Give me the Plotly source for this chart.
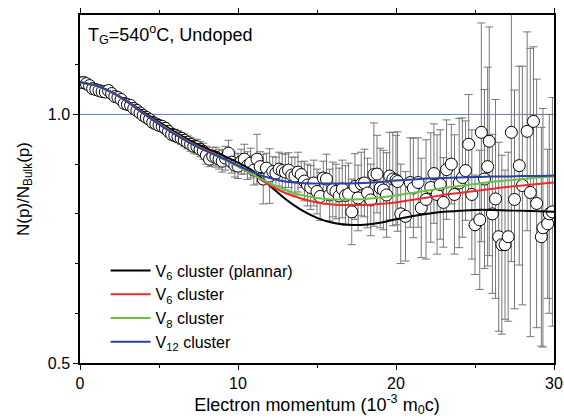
import plotly.graph_objects as go

# ---------------- data ----------------
momentum = [
    0.2, 0.4, 0.6, 0.8, 1.0, 1.2, 1.4, 1.6, 1.8, 2.0,
    2.2, 2.4, 2.6, 2.8, 3.0, 3.2, 3.4, 3.6, 3.8, 4.0,
    4.2, 4.4, 4.6, 4.8, 5.0, 5.2, 5.4, 5.6, 5.8, 6.0,
    6.2, 6.4, 6.6, 6.8, 7.0, 7.2, 7.4, 7.6, 7.8, 8.0,
    8.2, 8.4, 8.6, 8.8, 9.0, 9.2, 9.4, 9.6, 9.8, 10.0,
    10.2, 10.4, 10.6, 10.8, 11.0, 11.2, 11.4, 11.6, 11.8, 12.0,
    12.2, 12.4, 12.6, 12.8, 13.0, 13.2, 13.4, 13.6, 13.8, 14.0,
    14.2, 14.4, 14.6, 14.8, 15.0, 15.2, 15.4, 15.6, 15.8, 16.0,
    16.2, 16.4, 16.6, 16.8, 17.0, 17.2, 17.4, 17.6, 17.8, 18.0,
    18.2, 18.4, 18.6, 18.8, 19.0, 19.2, 19.4, 19.6, 19.8, 20.0,
    20.1, 20.3, 20.6, 20.9, 21.1, 21.4, 21.6, 21.9, 22.2, 22.4,
    22.6, 22.8, 23.0, 23.2, 23.5, 23.7, 24.0, 24.2, 24.4, 24.6,
    24.8, 25.0, 25.3, 25.4, 25.6, 25.8, 25.9, 26.1, 26.3, 26.5,
    26.7, 26.9, 27.1, 27.3, 27.5, 27.8, 28.0, 28.3, 28.5, 28.7,
    28.9, 29.2, 29.3, 29.6, 29.7, 29.9,
]
ratio = [
    1.064, 1.062, 1.058, 1.052, 1.050, 1.048, 1.046, 1.045, 1.048, 1.042,
    1.036, 1.034, 1.030, 1.022, 1.020, 1.018, 1.012, 1.008, 1.003, 0.998,
    0.994, 0.990, 0.984, 0.981, 0.978, 0.976, 0.972, 0.966, 0.960, 0.958,
    0.955, 0.952, 0.948, 0.944, 0.940, 0.936, 0.935, 0.930, 0.926, 0.918,
    0.910, 0.916, 0.914, 0.910, 0.906, 0.912, 0.922, 0.904, 0.898, 0.896,
    0.905, 0.910, 0.897, 0.902, 0.888, 0.910, 0.895, 0.870, 0.892, 0.876,
    0.885, 0.882, 0.890, 0.887, 0.884, 0.888, 0.878, 0.876, 0.884, 0.879,
    0.866, 0.858, 0.853, 0.862, 0.845, 0.835, 0.872, 0.870, 0.838, 0.849,
    0.845, 0.836, 0.850, 0.837, 0.840, 0.804, 0.855, 0.832, 0.860, 0.862,
    0.842, 0.828, 0.879, 0.880, 0.852, 0.848, 0.838, 0.876, 0.870, 0.868,
    0.865, 0.800, 0.795, 0.863, 0.852, 0.863, 0.812, 0.829, 0.853, 0.881,
    0.839, 0.859, 0.823, 0.889, 0.900, 0.839, 0.862, 0.873, 0.887, 0.940,
    0.839, 0.778, 0.788, 0.964, 0.870, 0.895, 0.946, 0.800, 0.830, 0.754,
    0.738, 0.738, 0.754, 0.964, 0.829, 0.897, 0.857, 0.966, 0.843, 0.986,
    0.821, 0.754, 0.772, 0.780, 0.800, 0.804,
]
ratio_err = [
    0.012, 0.010, 0.008, 0.008, 0.008, 0.008, 0.008, 0.008, 0.010, 0.008,
    0.008, 0.008, 0.008, 0.008, 0.008, 0.008, 0.008, 0.009, 0.009, 0.009,
    0.010, 0.010, 0.010, 0.010, 0.010, 0.010, 0.011, 0.011, 0.011, 0.012,
    0.012, 0.012, 0.013, 0.013, 0.014, 0.014, 0.015, 0.015, 0.016, 0.018,
    0.015, 0.018, 0.020, 0.020, 0.022, 0.024, 0.026, 0.022, 0.024, 0.025,
    0.025, 0.030, 0.028, 0.030, 0.030, 0.050, 0.030, 0.050, 0.030, 0.055,
    0.030, 0.032, 0.034, 0.034, 0.036, 0.035, 0.036, 0.038, 0.040, 0.026,
    0.040, 0.042, 0.044, 0.046, 0.045, 0.048, 0.034, 0.050, 0.052, 0.055,
    0.055, 0.056, 0.058, 0.060, 0.062, 0.066, 0.066, 0.066, 0.064, 0.068,
    0.070, 0.072, 0.104, 0.078, 0.080, 0.080, 0.085, 0.088, 0.094, 0.090,
    0.100, 0.100, 0.090, 0.090, 0.100, 0.090, 0.100, 0.120, 0.110, 0.100,
    0.120, 0.110, 0.090, 0.100, 0.080, 0.120, 0.130, 0.120, 0.100, 0.100,
    0.130, 0.100, 0.140, 0.220, 0.180, 0.200, 0.230, 0.160, 0.200, 0.190,
    0.180, 0.150, 0.170, 0.260, 0.220, 0.200, 0.240, 0.200, 0.290, 0.150,
    0.250, 0.220, 0.240, 0.150, 0.200, 0.230,
]

curve_x = [0, 1, 2, 3, 4, 5, 6, 7, 8, 9, 10, 11, 12, 13, 14, 15,
           16, 17, 18, 19, 20, 21, 22, 23, 24, 25, 26, 27, 28, 29, 30]
v6_planar = [1.065, 1.058, 1.045, 1.027, 1.005, 0.985, 0.965, 0.947, 0.932, 0.918,
             0.903, 0.885, 0.857, 0.830, 0.808, 0.792, 0.782, 0.778, 0.778, 0.782,
             0.789, 0.795, 0.800, 0.804, 0.806, 0.808, 0.808, 0.807, 0.806, 0.805, 0.804]
v6 = [1.065, 1.058, 1.045, 1.026, 1.003, 0.982, 0.962, 0.944, 0.928, 0.913,
      0.897, 0.878, 0.858, 0.842, 0.831, 0.823, 0.819, 0.818, 0.818, 0.820,
      0.823, 0.828, 0.833, 0.838, 0.842, 0.846, 0.850, 0.854, 0.857, 0.860, 0.863]
v8 = [1.064, 1.057, 1.044, 1.025, 1.002, 0.981, 0.961, 0.942, 0.926, 0.911,
      0.895, 0.878, 0.862, 0.848, 0.838, 0.832, 0.829, 0.829, 0.830, 0.833,
      0.837, 0.842, 0.847, 0.852, 0.856, 0.860, 0.864, 0.867, 0.870, 0.873, 0.875]
v12 = [1.065, 1.058, 1.045, 1.025, 1.002, 0.980, 0.960, 0.942, 0.926, 0.912,
       0.897, 0.883, 0.872, 0.865, 0.862, 0.861, 0.861, 0.861, 0.862, 0.864,
       0.867, 0.869, 0.871, 0.872, 0.873, 0.874, 0.875, 0.875, 0.876, 0.876, 0.877]

curve_names = ["V<sub>6</sub> cluster (plannar)", "V<sub>6</sub> cluster",
               "V<sub>8</sub> cluster", "V<sub>12</sub> cluster"]
curve_colors = ["#000000", "#ee2a2a", "#6cc040", "#2a3fa8"]

FONT = "Liberation Sans, Arial, sans-serif"

fig = go.Figure()

fig.add_trace(go.Scatter(
    x=momentum, y=ratio, mode="markers", showlegend=False,
    marker=dict(size=12, color="white", line=dict(color="black", width=1)),
    error_y=dict(type="data", array=ratio_err, symmetric=True,
                 color="#777777", thickness=1, width=4),
))

for ys, name, col in zip([v6_planar, v6, v8, v12], curve_names, curve_colors):
    fig.add_trace(go.Scatter(
        x=curve_x, y=ys, mode="lines", name=name,
        line=dict(color=col, width=2, shape="spline"),
    ))

fig.add_hline(y=1.0, line=dict(color="#6677cc", width=1), layer="below")

fig.add_annotation(
    xref="paper", yref="paper", x=0.012, y=0.945, xanchor="left", yanchor="middle",
    text="T<sub>G</sub>=540<sup>o</sup>C, Undoped", showarrow=False,
    font=dict(family=FONT, size=18, color="black"),
)

fig.update_layout(
    width=564, height=419,
    margin=dict(l=80, r=10, t=15, b=56, autoexpand=False),
    paper_bgcolor="white", plot_bgcolor="white",
    font=dict(family=FONT, size=16, color="black"),
    legend=dict(x=0.054, y=0.01, xanchor="left", yanchor="bottom",
                bgcolor="rgba(0,0,0,0)", font=dict(size=16),
                tracegroupgap=0, itemwidth=40),
)

fig.update_xaxes(
    range=[0, 30], tickvals=[0, 10, 20, 30], ticks="outside", ticklen=5,
    showline=True, linecolor="black", linewidth=1.5, mirror="ticks",
    showgrid=False, zeroline=False, tickcolor="black",
    minor=dict(dtick=5, ticks="outside", ticklen=3, tickcolor="black", showgrid=False),
    title=dict(text="Electron momentum (10<sup>-3</sup> m<sub>0</sub>c)", standoff=2,
               font=dict(size=18)),
    tickfont=dict(size=16), automargin=False,
)
fig.update_yaxes(
    range=[0.5, 1.2], tickvals=[0.5, 1.0], ticktext=["0.5", "1.0"],
    ticks="outside", ticklen=5, tickcolor="black",
    showline=True, linecolor="black", linewidth=1.5, mirror=True,
    showgrid=False, zeroline=False,
    minor=dict(tickvals=[0.6, 0.7, 0.8, 0.9, 1.1], ticks="outside", ticklen=3,
               tickcolor="black", showgrid=False),
    title=dict(text="N(p)/N<sub>Bulk</sub>(p)", standoff=14, font=dict(size=17)),
    tickfont=dict(size=16), automargin=False,
)

fig.write_html("out.html", config={"displayModeBar": False},
               post_script="document.body.style.margin='0px';")
